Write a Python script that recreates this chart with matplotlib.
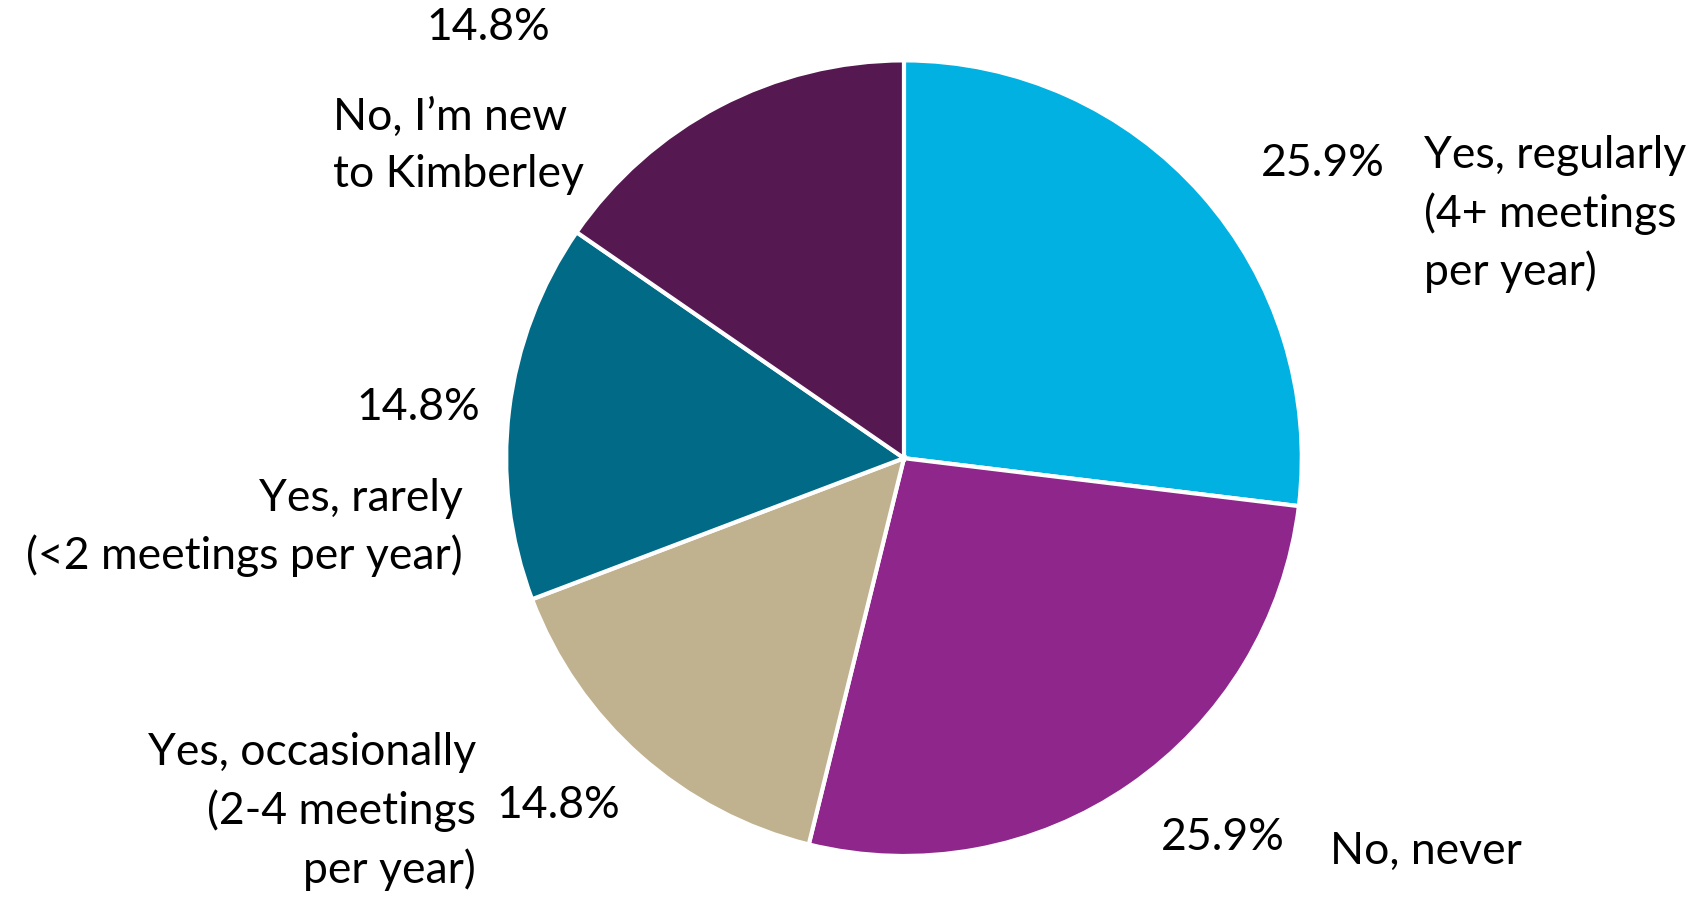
import matplotlib
matplotlib.use('Agg')
import matplotlib.pyplot as plt

# survey answers, clockwise from 12 o'clock
labels = ['Yes, regularly\n(4+ meetings\nper year)',
          'No, never',
          'Yes, occasionally\n(2-4 meetings\nper year)',
          'Yes, rarely\n(<2 meetings per year)',
          'No, I\u2019m new\nto Kimberley']
values = [25.9, 25.9, 14.8, 14.8, 14.8]
colors = ['#00B1E1', '#8E268B', '#C0B18F', '#006A87', '#561851']

# label placement (in pie radius units) - tuned by eye
pct_pos = [(1.052, 0.741), (0.801, -0.954), (-0.869, -0.872), (-1.221, 0.128), (-1.044, 1.082)]
lab_pos = [(1.308, 0.613, 'left'), (1.071, -0.989, 'left'), (-1.076, -0.888, 'right'),
           (-1.109, -0.174, 'right'), (-1.436, 0.785, 'left')]

plt.rcParams['font.family'] = ['Lato', 'DejaVu Sans']

fig = plt.figure(figsize=(17.04, 9), dpi=100)
ax = fig.add_axes([0.297, 0.0489, 0.467, 0.884])

ax.pie(values, colors=colors, startangle=90, counterclock=False,
       wedgeprops=dict(edgecolor='white', linewidth=3), radius=1)

for v, (x, y) in zip(values, pct_pos):
    ax.text(x, y, '{:.1f}%'.format(v), ha='center', va='center', fontsize=32)

for lab, (x, y, ha) in zip(labels, lab_pos):
    ax.text(x, y, lab, ha=ha, va='center', fontsize=32, multialignment=ha, linespacing=1.46)

ax.set_xlim(-1, 1)
ax.set_ylim(-1, 1)
ax.set_aspect('equal')
ax.axis('off')

fig.savefig('out.png', dpi=100)
